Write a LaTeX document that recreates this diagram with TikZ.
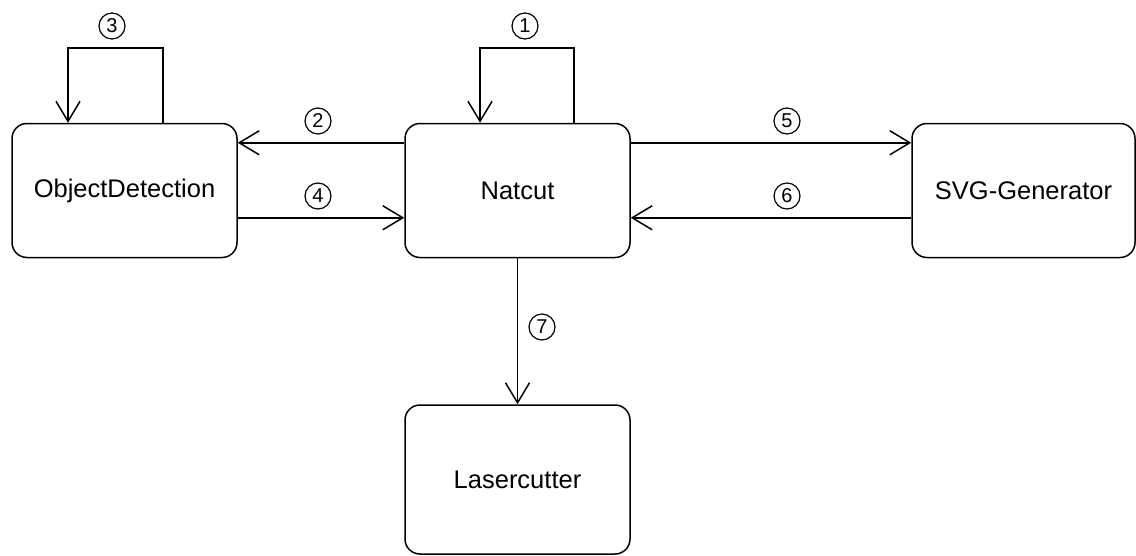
\documentclass[tikz,border=0pt]{standalone}
\usepackage{fontspec}
\setmainfont{Liberation Sans}
\usetikzlibrary{arrows.meta}
\begin{document}
\begin{tikzpicture}[x=1pt,y=-1pt,
  comp/.style={draw, line width=1.5pt, rounded corners=15pt, minimum width=225pt, minimum height=134pt, inner sep=0pt, font=\fontsize{25.5}{30}\selectfont},
  conn/.style={line width=1.5pt, -{Straight Barb[length=20pt,width=24pt,line width=1.5pt]}},
  num/.style={draw, circle, line width=1.2pt, minimum size=26pt, inner sep=0pt, font=\fontsize{20}{22}\selectfont}]
\useasboundingbox (0,0) rectangle (1136,555);
\node[comp] (od) at (124.5,190.5) {ObjectDetection};
\node[comp] (nat) at (517.5,190.5) {Natcut};
\node[comp, minimum width=223pt] (svg) at (1023.5,190.5) {SVG-Generator};
\node[comp, minimum height=149pt] (laser) at (517.5,479.5) {Lasercutter};
% loop 3
\coordinate (l3a) at (163,48);
\coordinate (l3b) at (68,48);
\draw[conn] (od.north -| l3a) -- (l3a) -- (l3b) -- (od.north -| l3b);
\node[num] (n3) at (112,26) {3};
% loop 1
\coordinate (l1a) at (574,48);
\coordinate (l1b) at (480,48);
\draw[conn] (nat.north -| l1a) -- (l1a) -- (l1b) -- (nat.north -| l1b);
\node[num] (n1) at (525,26) {1};
% 2 and 4
\draw[conn] ([yshift=-20pt]nat.north west) -- ([yshift=-20pt]od.north east);
\node[num] (n2) at (318,121) {2};
\draw[conn] ([yshift=-95pt]od.north east) -- ([yshift=-95pt]nat.north west);
\node[num] (n4) at (318,196) {4};
% 5 and 6
\draw[conn] ([yshift=-20pt]nat.north east) -- ([yshift=-20pt]svg.north west);
\node[num] (n5) at (787,121) {5};
\draw[conn] ([yshift=-95pt]svg.north west) -- ([yshift=-95pt]nat.north east);
\node[num] (n6) at (787,196) {6};
% 7
\draw[conn] (nat.south) -- (laser.north);
\node[num] (n7) at (542,327) {7};
\end{tikzpicture}
\end{document}
